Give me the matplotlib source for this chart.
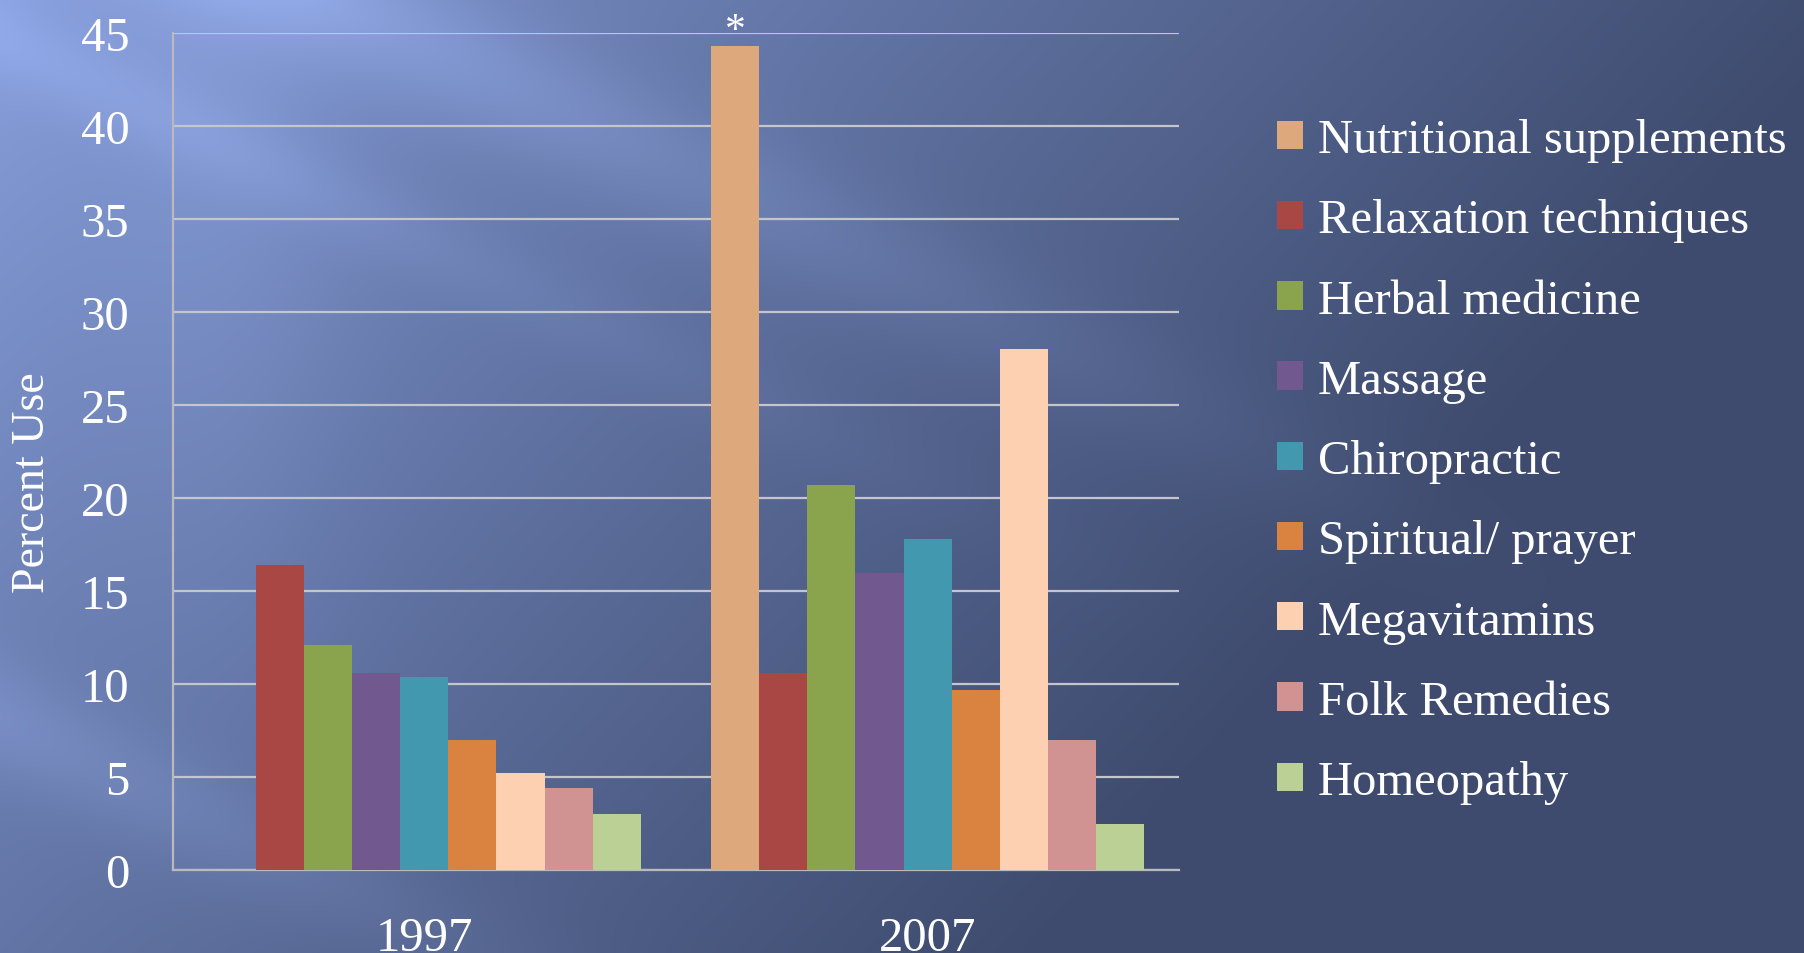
import numpy as np
import matplotlib
matplotlib.use("Agg")
import matplotlib.pyplot as plt
from matplotlib.patches import Patch

# Data
years = ["1997", "2007"]
therapies = ["Nutritional supplements", "Relaxation techniques", "Herbal medicine",
             "Massage", "Chiropractic", "Spiritual/ prayer", "Megavitamins",
             "Folk Remedies", "Homeopathy"]
use_1997 = [0.0, 16.4, 12.1, 10.6, 10.4, 7.0, 5.2, 4.4, 3.0]
use_2007 = [44.3, 10.6, 20.7, 16.0, 17.8, 9.7, 28.0, 7.0, 2.5]
colors = ["#DDA97C", "#A94744", "#8AA44E", "#71588F", "#4298AE",
          "#DA8240", "#FCD0B0", "#D19391", "#BAD094"]

W, H = 1804, 954
fig = plt.figure(figsize=(W / 100, H / 100), dpi=100)

# background: blue gradient, light top-left to dark right, with diagonal streaks
yy, xx = np.mgrid[0:H, 0:W]
t = np.clip(0.95 * xx / W + 0.45 * yy / H, 0, 1) ** 0.85
light = np.array([136, 160, 222]) / 255
dark = np.array([62, 75, 110]) / 255
img = light[None, None, :] * (1 - t[..., None]) + dark[None, None, :] * t[..., None]
d = yy - 0.48 * xx
band = (0.13 * np.exp(-((d + 160) / 70) ** 2) * np.clip(1.15 - xx / 1400, 0, 1)
        + 0.07 * np.exp(-((d - 40) / 45) ** 2) * np.clip(1 - xx / 1200, 0, 1)
        + 0.09 * np.exp(-((d - 720) / 60) ** 2) * np.clip(1 - xx / 800, 0, 1)
        + 0.06 * np.exp(-((xx - 230) / 120) ** 2) * np.clip(1 - yy / 1100, 0, 1))
img = np.clip(img + band[..., None] * np.array([0.6, 0.65, 0.8]), 0, 1)
bg = fig.add_axes([0, 0, 1, 1], zorder=-1)
bg.imshow(img, aspect="auto", extent=[0, 1, 0, 1])
bg.axis("off")

plt.rcParams["font.family"] = ["Liberation Serif", "DejaVu Serif"]

ax = fig.add_axes([0.0957, 0.087, 0.558, 0.877])
ax.patch.set_alpha(0)

n = len(therapies)
width = 0.86 / n
x = np.arange(len(years))
for i, name in enumerate(therapies):
    vals = [use_1997[i], use_2007[i]]
    ax.bar(x - 0.43 + width * (i + 0.5), vals, width, color=colors[i],
           label=name, zorder=3)

ax.set_xlim(-0.5, 1.5)
ax.set_ylim(0, 45)
ax.set_yticks(range(0, 46, 5))
ax.yaxis.grid(True, color="#c4c6cc", linewidth=1.6, zorder=0)
ax.set_axisbelow(True)
for s in ["top", "right"]:
    ax.spines[s].set_visible(False)
for s in ["left", "bottom"]:
    ax.spines[s].set_color("#b8bac0")
    ax.spines[s].set_linewidth(1.6)
ax.tick_params(axis="both", length=0, colors="white", labelsize=35)
ax.tick_params(axis="y", pad=31)
ax.tick_params(axis="x", pad=33)
ax.set_xticks(x)
ax.set_xticklabels(years)

fig.text(33 / W, 1 - 483 / H, "Percent Use", color="white", fontsize=33,
         rotation=90, ha="center", va="center")

# asterisk above the 2007 nutritional supplements bar
ax.text(x[1] - 0.43 + width * 0.5, 44.6, "*", color="white",
        fontsize=30, ha="center", va="baseline")

handles = [Patch(facecolor=c) for c in colors]
fig.legend(handles, therapies, loc="upper left", bbox_to_anchor=(0.708, 0.875),
           frameon=False, fontsize=35, labelcolor="white", borderpad=0,
           borderaxespad=0, handlelength=0.54, handleheight=0.52,
           handletextpad=0.3, labelspacing=0.745)

fig.savefig("out.png", dpi=100)
